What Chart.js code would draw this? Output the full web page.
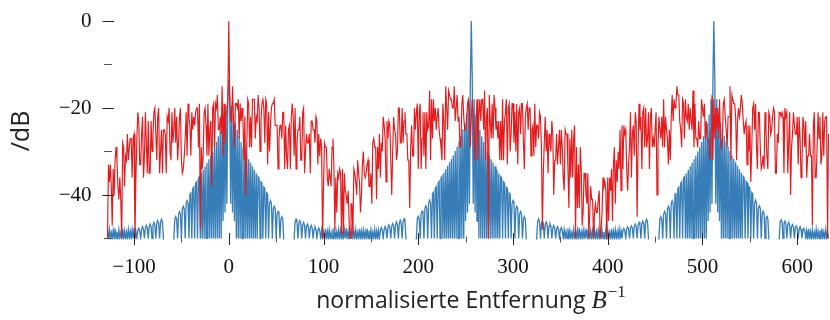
<!DOCTYPE html>
<html><head><meta charset="utf-8">
<script src="https://cdn.jsdelivr.net/npm/chart.js@4.4.1/dist/chart.umd.min.js"></script>
<style>html,body{margin:0;padding:0;background:#fff;overflow:hidden}#wrap{width:830px;height:320px}</style>
</head><body><div id="wrap"><canvas id="c" width="830" height="320"></canvas></div>
<script>
// sample positions: one sample per unit of normalised distance
const xStart = -128;
const xEnd = 633;
const xMajorTicks = [-100, 0, 100, 200, 300, 400, 500, 600];
const xMinorTicks = [-50, 50, 150, 250, 350, 450, 550];
const yMajorTicks = [0, -20, -40];
const yMinorTicks = [-10, -30, -50];
const yTitle = '/dB';
const xTitleText = 'normalisierte Entfernung ';
const xTitleSymbol = 'B';
const xTitleExponent = '\u22121';

// red series (dB), x = -128 ... 633
const redSeries = [
-50,-33,-37,-33,-38,-47,-34,-40,-32,-29,-32,-38,-41,-36,-41,-50,-28,-29,-38,-31,
-32,-26,-32,-29,-27,-27,-36,-27,-26,-50,-36,-27,-21,-23,-33,-33,-26,-22,-36,-31,
-21,-28,-35,-23,-35,-35,-23,-30,-26,-21,-20,-26,-32,-22,-20,-35,-30,-25,-35,-25,
-25,-26,-35,-22,-23,-20,-30,-32,-21,-28,-25,-20,-28,-22,-32,-28,-22,-20,-32,-35,
-34,-31,-27,-21,-31,-19,-22,-24,-31,-21,-25,-22,-24,-21,-20,-20,-29,-19,-48,-29,
-34,-31,-21,-20,-24,-31,-19,-31,-25,-23,-38,-20,-19,-29,-19,-20,-17,-25,-25,-22,
-26,-15,-31,-19,-28,-21,-21,-18,0,-17,-23,-23,-15,-23,-29,-19,-19,-20,-18,-27,
-19,-23,-20,-23,-32,-22,-40,-29,-18,-19,-29,-22,-29,-18,-18,-18,-27,-22,-23,-17,
-20,-30,-23,-19,-18,-20,-28,-18,-19,-33,-21,-30,-24,-20,-19,-19,-18,-24,-24,-24,
-34,-27,-24,-24,-27,-21,-21,-34,-24,-31,-34,-25,-24,-34,-22,-19,-22,-31,-20,-34,
-28,-25,-25,-22,-32,-32,-21,-20,-35,-30,-26,-28,-28,-26,-35,-23,-23,-25,-25,-28,
-22,-23,-33,-26,-31,-27,-29,-50,-38,-28,-29,-29,-36,-38,-34,-36,-38,-29,-27,-34,
-48,-36,-44,-35,-36,-34,-35,-49,-34,-49,-35,-39,-40,-42,-39,-46,-50,-42,-42,-49,
-34,-35,-37,-40,-32,-35,-37,-44,-40,-33,-30,-35,-36,-35,-33,-32,-38,-38,-35,-42,
-28,-27,-29,-29,-41,-29,-34,-26,-36,-28,-30,-22,-24,-27,-37,-23,-27,-23,-24,-32,
-40,-30,-22,-25,-26,-32,-30,-20,-20,-28,-28,-20,-28,-23,-21,-26,-26,-32,-32,-43,
-29,-24,-31,-31,-20,-25,-21,-19,-34,-21,-19,-34,-27,-21,-31,-21,-34,-21,-25,-24,
-16,-32,-18,-27,-18,-23,-20,-25,-22,-20,-25,-27,-29,-32,-19,-23,-32,-15,-20,-25,
-16,-17,-18,-18,-20,-20,-15,-23,-20,-17,-23,-22,-29,-29,-19,-17,-22,-25,-25,-23,
-19,-18,-20,-29,-22,-18,-22,-25,-32,-23,-18,-32,-22,-18,-23,-18,-18,-25,-16,-32,
-22,-20,-50,-17,-23,-27,-19,-27,-17,-20,-25,-23,-27,-23,-32,-23,-32,-18,-32,-23,
-21,-18,-33,-20,-19,-30,-26,-19,-19,-28,-21,-30,-19,-33,-21,-20,-26,-19,-19,-28,
-34,-22,-20,-19,-25,-20,-20,-31,-25,-24,-31,-19,-29,-24,-24,-27,-21,-22,-29,-48,
-35,-28,-22,-30,-25,-35,-26,-28,-30,-23,-26,-40,-32,-32,-26,-33,-29,-25,-33,-25,
-29,-36,-39,-25,-26,-26,-34,-43,-27,-36,-25,-36,-27,-24,-50,-29,-43,-33,-43,-29,
-34,-47,-44,-35,-35,-40,-42,-35,-50,-44,-38,-41,-41,-50,-44,-42,-44,-44,-41,-39,
-50,-48,-44,-36,-38,-37,-39,-51,-36,-46,-36,-39,-34,-46,-33,-29,-42,-32,-37,-30,
-34,-25,-39,-24,-34,-24,-26,-25,-34,-39,-33,-29,-21,-36,-26,-24,-31,-21,-23,-45,
-29,-19,-25,-22,-34,-21,-20,-29,-20,-29,-27,-21,-34,-22,-20,-29,-27,-29,-25,-21,
-40,-29,-22,-25,-27,-22,-29,-18,-29,-22,-25,-27,-33,-25,-32,-22,-17,-23,-18,-20,
-19,-15,-17,-17,-23,-25,-29,-18,-19,-27,-18,-22,-23,-19,-25,-20,-23,-25,-16,-29,
-19,-27,-27,-29,-23,-27,-27,-18,-20,-22,-19,-27,-23,-27,-27,-29,-32,-25,-17,-32,
-18,-27,-20,-25,-20,-27,-18,-27,-29,-27,-19,-18,-22,-25,-29,-22,-22,-15,-32,-17,
-18,-19,-19,-22,-32,-23,-20,-22,-20,-17,-19,-23,-26,-24,-23,-33,-24,-30,-24,-37,
-29,-20,-19,-25,-19,-29,-34,-21,-21,-29,-34,-33,-31,-34,-21,-25,-31,-34,-21,-22,
-26,-25,-22,-20,-21,-35,-35,-26,-28,-21,-21,-22,-21,-22,-35,-20,-22,-21,-35,-28,
-21,-40,-29,-26,-21,-24,-26,-26,-22,-33,-22,-27,-36,-33,-22,-24,-29,-23,-36,-31,
-31,-26,-31,-31,-47,-24,-21,-36,-36,-29,-21,-27,-22,-33,-31,-21,-31,-23,-22,-22,
-50,-26
];

// blue series (dB), x = -128 ... 633 (values below -50 lie under the plot floor)
const blueSeries = [
// -128 .. -98
-48.3,-50,-47.9,-50,-48.6,-50,-48.1,-50,-47.7,-50,-48.4,-50,-48.0,-50,-48.7,-50,-47.8,-50,-48.2,-50,-48.5,-50,-47.9,-50,-48.3,-50,-48.0,-50,-47.6,-50,-48.4,
// -97 .. -69
-50,-48.2,-47.6,-48.2,-50,-47.9,-47.3,-47.9,-50,-47.6,-47.0,-47.6,-50,-47.3,-46.7,-47.3,-50,-46.9,-46.3,-46.9,-50,-46.5,-45.9,-46.5,-50,-46.2,-45.6,-46.2,-50,
// -68 .. -59
-60,-60,-60,-60,-60,-60,-60,-60,-60,-60,
// -58 .. -1
-50,-45.6,-45.0,-45.6,-50,-44.4,-43.8,-44.4,-50,-43.2,-42.6,-43.2,-50,-41.9,-41.3,-41.9,-50,
-39.8,-39.5,-50,-38.5,-38.2,-50,-37.3,-37,-50,-36.1,-35.8,-50,
-35,-50,-34.2,-50,-33.4,-50,-32.6,-50,-31.8,-50,-31,-50,-30,-50,-29,-50,-27.8,-50,-26.5,-50,-25,-50,-23.5,-46,-21.5,-44,-19.5,-42,-18,
// 0
-13.5,
// 1 .. 58
-18,-42,-19.5,-44,-21.5,-46,-23.5,-50,-25,-50,-26.5,-50,-27.8,-50,-29,-50,-30,-50,-31,-50,-31.8,-50,-32.6,-50,-33.4,-50,-34.2,-50,-35,
-50,-35.8,-36.1,-50,-37,-37.3,-50,-38.2,-38.5,-50,-39.5,-39.8,
-50,-41.9,-41.3,-41.9,-50,-43.2,-42.6,-43.2,-50,-44.4,-43.8,-44.4,-50,-45.6,-45.0,-45.6,-50,
// 59 .. 68
-60,-60,-60,-60,-60,-60,-60,-60,-60,-60,
// 69 .. 97
-50,-46.2,-45.6,-46.2,-50,-46.5,-45.9,-46.5,-50,-46.9,-46.3,-46.9,-50,-47.3,-46.7,-47.3,-50,-47.6,-47.0,-47.6,-50,-47.9,-47.3,-47.9,-50,-48.2,-47.6,-48.2,-50,
// 98 .. 158
-48.1,-50,-48.5,-50,-47.8,-50,-48.3,-50,-48.0,-50,-48.6,-50,-47.7,-50,-48.2,-50,-48.4,-50,-47.9,-50,-48.1,-50,-48.7,-50,-48.0,-50,-47.6,-50,-48.3,-50,-48.5,-50,-47.9,-50,-48.2,-50,-48.0,-50,-48.6,-50,-47.8,-50,-48.3,-50,-48.1,-50,-48.4,-50,-47.7,-50,-48.2,-50,-48.0,-50,-48.5,-50,-47.9,-50,-48.3,-50,-48.1,
// 159 .. 187
-50,-48.1,-47.5,-48.1,-50,-47.9,-47.2,-47.9,-50,-47.5,-46.9,-47.5,-50,-47.2,-46.6,-47.2,-50,-46.9,-46.2,-46.9,-50,-46.5,-45.8,-46.5,-50,-46.1,-45.5,-46.1,-50,
// 188 .. 197
-60,-60,-60,-60,-60,-60,-60,-60,-60,-60,
// 198 .. 255
-50,-45.5,-44.9,-45.5,-50,-44.3,-43.7,-44.3,-50,-43.1,-42.5,-43.1,-50,-41.8,-41.2,-41.8,-50,
-39.7,-39.4,-50,-38.4,-38.1,-50,-37.2,-36.9,-50,-36.0,-35.7,-50,
-34.9,-50,-34.1,-50,-33.3,-50,-32.5,-50,-31.7,-50,-30.9,-50,-29.9,-50,-28.9,-50,-27.7,-50,-26.4,-50,-24.9,-50,-23.4,-46,-21.4,-44,-18,-42,-13.5,
// 256
0,
// 257 .. 314
-13.5,-42,-18,-44,-21.5,-46,-23.5,-50,-25,-50,-26.5,-50,-27.8,-50,-29,-50,-30,-50,-31,-50,-31.8,-50,-32.6,-50,-33.4,-50,-34.2,-50,-35,
-50,-35.8,-36.1,-50,-37,-37.3,-50,-38.2,-38.5,-50,-39.5,-39.8,
-50,-41.9,-41.3,-41.9,-50,-43.2,-42.6,-43.2,-50,-44.4,-43.8,-44.4,-50,-45.6,-45.0,-45.6,-50,
// 315 .. 324
-60,-60,-60,-60,-60,-60,-60,-60,-60,-60,
// 325 .. 353
-50,-46.1,-45.5,-46.1,-50,-46.5,-45.9,-46.5,-50,-46.8,-46.2,-46.8,-50,-47.2,-46.6,-47.2,-50,-47.6,-47.0,-47.6,-50,-47.9,-47.3,-47.9,-50,-48.1,-47.5,-48.1,-50,
// 354 .. 414
-48.0,-50,-48.4,-50,-47.7,-50,-48.2,-50,-48.6,-50,-47.9,-50,-48.3,-50,-48.1,-50,-47.6,-50,-48.5,-50,-48.0,-50,-48.2,-50,-47.8,-50,-48.7,-50,-48.1,-50,-48.3,-50,-47.9,-50,-48.4,-50,-48.0,-50,-47.7,-50,-48.2,-50,-48.5,-50,-47.9,-50,-48.1,-50,-48.6,-50,-47.8,-50,-48.3,-50,-48.0,-50,-48.4,-50,-47.9,-50,-48.2,
// 415 .. 443
-50,-48.2,-47.7,-48.2,-50,-47.8,-47.3,-47.8,-50,-47.6,-47.1,-47.6,-50,-47.2,-46.7,-47.2,-50,-46.9,-46.3,-46.9,-50,-46.6,-46.0,-46.6,-50,-46.2,-45.6,-46.2,-50,
// 444 .. 453
-60,-60,-60,-60,-60,-60,-60,-60,-60,-60,
// 454 .. 511
-50,-45.6,-45.0,-45.6,-50,-44.4,-43.8,-44.4,-50,-43.2,-42.6,-43.2,-50,-41.9,-41.3,-41.9,-50,
-39.8,-39.5,-50,-38.5,-38.2,-50,-37.3,-37,-50,-36.1,-35.8,-50,
-35,-50,-34.2,-50,-33.4,-50,-32.6,-50,-31.8,-50,-31,-50,-30,-50,-29,-50,-27.8,-50,-26.5,-50,-25,-50,-23.5,-46,-21.5,-44,-18,-42,-13.5,
// 512
0,
// 513 .. 570
-13.5,-42,-18,-44,-21.4,-46,-23.4,-50,-24.9,-50,-26.4,-50,-27.7,-50,-28.9,-50,-29.9,-50,-30.9,-50,-31.7,-50,-32.5,-50,-33.3,-50,-34.1,-50,-34.9,
-50,-35.7,-36.0,-50,-36.9,-37.2,-50,-38.1,-38.4,-50,-39.4,-39.7,
-50,-41.8,-41.2,-41.8,-50,-43.1,-42.5,-43.1,-50,-44.3,-43.7,-44.3,-50,-45.5,-44.9,-45.5,-50,
// 571 .. 580
-60,-60,-60,-60,-60,-60,-60,-60,-60,-60,
// 581 .. 609
-50,-46.2,-45.7,-46.2,-50,-46.6,-46.0,-46.6,-50,-46.9,-46.3,-46.9,-50,-47.3,-46.8,-47.3,-50,-47.6,-47.1,-47.6,-50,-47.9,-47.3,-47.9,-50,-48.2,-47.7,-48.2,-50,
// 610 .. 633
-48.2,-50,-47.8,-50,-48.4,-50,-48.0,-50,-48.6,-50,-47.9,-50,-48.3,-50,-48.1,-50,-47.7,-50,-48.5,-50,-48.0,-50,-48.2,-50
];

const fmt = v => (v < 0 ? '\u2212' + Math.abs(v) : String(v));
const toPoints = arr => arr.map((v, i) => ({ x: xStart + i, y: v }));

const decor = {
  id: 'decor',
  afterDatasetsDraw(chart) {
    const ctx = chart.ctx, xs = chart.scales.x, ys = chart.scales.y;
    const a = chart.chartArea;
    ctx.save();
    ctx.lineWidth = 1;
    yMajorTicks.forEach(v => {
      const y = Math.round(ys.getPixelForValue(v)) + 0.5;
      ctx.strokeStyle = '#222';
      ctx.beginPath(); ctx.moveTo(a.left - 5, y); ctx.lineTo(a.left + 6.5, y); ctx.stroke();
    });
    yMinorTicks.forEach(v => {
      const y = Math.round(ys.getPixelForValue(v)) - 0.5;
      ctx.strokeStyle = '#555';
      ctx.beginPath(); ctx.moveTo(a.left - 3.5, y); ctx.lineTo(a.left + 4.5, y); ctx.stroke();
    });
    xMajorTicks.forEach(v => {
      const x = Math.round(xs.getPixelForValue(v)) + 0.5;
      ctx.strokeStyle = '#222';
      ctx.beginPath(); ctx.moveTo(x, a.bottom - 5.5); ctx.lineTo(x, a.bottom + 6.5); ctx.stroke();
    });
    xMinorTicks.forEach(v => {
      const x = Math.round(xs.getPixelForValue(v)) + 0.5;
      ctx.strokeStyle = '#555';
      ctx.beginPath(); ctx.moveTo(x, a.bottom - 2); ctx.lineTo(x, a.bottom + 4); ctx.stroke();
    });
    ctx.restore();
  },
  afterDraw(chart) {
    const ctx = chart.ctx;
    ctx.save();
    ctx.fillStyle = '#222';
    ctx.translate(22, 131);
    ctx.rotate(-Math.PI / 2);
    ctx.font = '25px "Open Sans", sans-serif';
    ctx.textAlign = 'center';
    ctx.textBaseline = 'middle';
    ctx.fillText(yTitle, 0, 0);
    ctx.restore();
    ctx.save();
    ctx.fillStyle = '#222';
    ctx.textBaseline = 'alphabetic';
    ctx.textAlign = 'left';
    const f1 = '23px "Open Sans", sans-serif';
    const f2 = 'italic 25px "Liberation Serif", serif';
    const f3 = '17px "Liberation Serif", serif';
    ctx.font = f1; const w1 = ctx.measureText(xTitleText).width;
    ctx.font = f2; const w2 = ctx.measureText(xTitleSymbol).width;
    ctx.font = f3; const w3 = ctx.measureText(xTitleExponent).width;
    let x = 471 - (w1 + w2 + w3 + 1) / 2;
    const base = 308;
    ctx.font = f1; ctx.fillText(xTitleText, x, base); x += w1;
    ctx.font = f2; ctx.fillText(xTitleSymbol, x, base); x += w2 + 1;
    ctx.font = f3; ctx.fillText(xTitleExponent, x, base - 11);
    ctx.restore();
  }
};

new Chart(document.getElementById('c'), {
  type: 'line',
  data: {
    datasets: [
      { label: 'rot', data: toPoints(redSeries), borderColor: '#e41a1c', borderWidth: 1.15, pointRadius: 0, tension: 0, fill: false, clip: 1 },
      { label: 'blau', data: toPoints(blueSeries), borderColor: '#377eb8', borderWidth: 1.3, pointRadius: 0, tension: 0, fill: false, clip: 1 }
    ]
  },
  options: {
    responsive: false,
    animation: false,
    devicePixelRatio: 1,
    layout: { padding: { top: 21, right: 1.5, left: 0, bottom: 0 } },
    plugins: { legend: { display: false }, tooltip: { enabled: false } },
    scales: {
      x: {
        type: 'linear', min: xStart, max: xEnd,
        grid: { display: false, drawTicks: false },
        border: { display: false },
        afterBuildTicks: s => { s.ticks = xMajorTicks.map(v => ({ value: v })); },
        afterFit: s => { s.height = 81.5; s.paddingLeft = 0; s.paddingRight = 0; },
        ticks: { font: { family: '"Liberation Serif", serif', size: 21 }, color: '#111', padding: 16, maxRotation: 0, autoSkip: false, callback: v => fmt(v) }
      },
      y: {
        min: -50, max: 0,
        grid: { display: false, drawTicks: false },
        border: { display: false },
        afterBuildTicks: s => { s.ticks = yMajorTicks.map(v => ({ value: v })); },
        afterFit: s => { s.width = 107.5; s.paddingTop = 0; s.paddingBottom = 0; },
        ticks: { font: { family: '"Liberation Serif", serif', size: 21 }, color: '#111', padding: 16, autoSkip: false, callback: v => fmt(v) }
      }
    }
  },
  plugins: [decor]
});
</script>
</body></html>
